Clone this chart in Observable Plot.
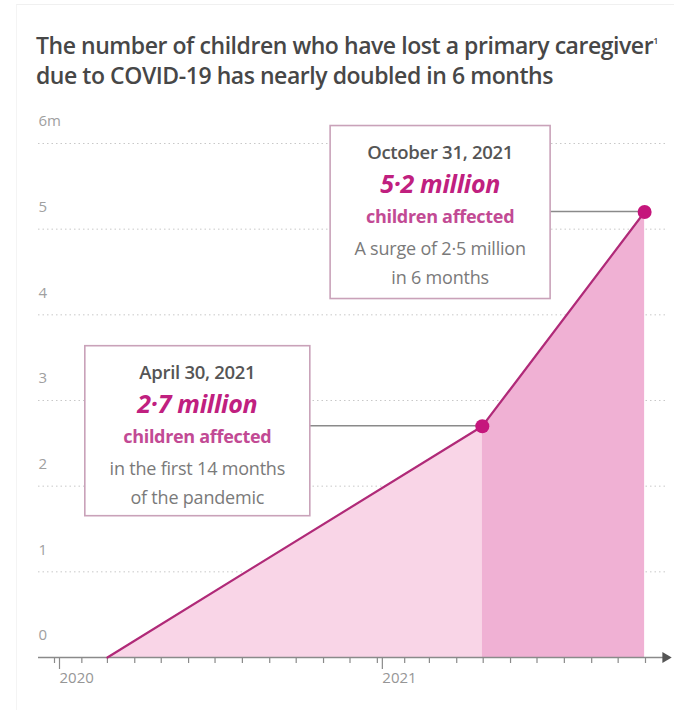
<!DOCTYPE html>
<html>
<head>
<meta charset="utf-8">
<script src="https://cdn.jsdelivr.net/npm/d3@7"></script>
<script src="https://cdn.jsdelivr.net/npm/@observablehq/plot@0.6"></script>
<style>
  html, body { margin: 0; padding: 0; background: #fff; }
  #wrap { width: 674px; height: 710px; position: relative; overflow: hidden; font-family: "Open Sans", Lato, sans-serif; }
  #frame { position: absolute; left: 16px; top: 4px; right: 0; bottom: 0; border-top: 1px solid #f0f0f0; border-left: 1px solid #f4f4f4; }
  #title { position: relative; box-sizing: border-box; height: 100px; padding: 26px 0 0 36px; font-size: 23px; line-height: 30px; font-weight: 600; color: #474747; letter-spacing: -0.45px; white-space: nowrap; }
  #title sup { font-size: 9px; vertical-align: 10px; }
  #chart svg { display: block; }
</style>
</head>
<body>
<div id="wrap">
  <div id="frame"></div>
  <div id="title">The number of children who have lost a primary caregiver<sup>1</sup><br>due to COVID-19 has nearly doubled in 6 months</div>
  <div id="chart"></div>
</div>
<script>
// ---- data ----
const pointDates = ["2020-03-01", "2021-04-30", "2021-10-31"];
const pointValues = [0, 2.7, 5.2]; // millions of children
const yTicks = [0, 1, 2, 3, 4, 5, 6];
const yTickLabels = ["0", "1", "2", "3", "4", "5", "6m"];
const yearTicks = ["2020-01-01", "2021-01-01"];
const xDomain = ["2020-01-01", "2021-11-01"];
const annDates = ["April 30, 2021", "October 31, 2021"];
const annHeadlines = ["2·7 million", "5·2 million"];
const annSubs = ["children affected", "children affected"];
const annNote1 = ["in the first 14 months", "A surge of 2·5 million"];
const annNote2 = ["of the pandemic", "in 6 months"];

// ---- derived tables ----
const points = pointDates.map((d, i) => ({date: new Date(d), value: pointValues[i]}));
const phase1 = points.slice(0, 2);
const phase2 = points.slice(1, 3);
const annotations = points.slice(1).map((p, i) => ({
  ...p, date1: annDates[i], headline: annHeadlines[i], sub: annSubs[i], note1: annNote1[i], note2: annNote2[i]
}));
const monthTicks = d3.utcMonth.range(new Date(xDomain[0]), d3.utcDay.offset(new Date(xDomain[1]), 1));

// ---- layout/style of annotation boxes (pixel offsets from the data point) ----
const boxLayout = [
  {left: -397, right: -172, top: -80, bottom: 90},
  {left: -314, right: -94, top: -86, bottom: 87}
];
const lineOffsets = [26, 57, 90, 122, 151];
const FONT = "'Open Sans', Lato, sans-serif";

function annotationMark(index, scales, values, dimensions) {
  const g = d3.create("svg:g");
  annotations.forEach((a, i) => {
    const px = scales.x(a.date), py = scales.y(a.value);
    const L = boxLayout[i];
    const x0 = px + L.left, x1 = px + L.right, y0 = py + L.top, y1 = py + L.bottom;
    g.append("line").attr("x1", x1).attr("x2", px).attr("y1", py).attr("y2", py)
      .attr("stroke", "#8a8a8a").attr("stroke-width", 1.5);
    g.append("rect").attr("x", x0).attr("y", y0).attr("width", x1 - x0).attr("height", y1 - y0)
      .attr("fill", "#fff").attr("stroke", "#c9a2b9").attr("stroke-width", 1.6);
    const cx = (x0 + x1) / 2;
    const lines = [
      {t: a.date1, size: 18.5, weight: 600, style: "normal", fill: "#555", ls: -0.3},
      {t: a.headline, size: 25, weight: 700, style: "italic", fill: "#c0207f", ls: -0.3},
      {t: a.sub, size: 18, weight: 700, style: "normal", fill: "#c24a94", ls: -0.3},
      {t: a.note1, size: 18, weight: 400, style: "normal", fill: "#7a7a7a", ls: -0.2},
      {t: a.note2, size: 18, weight: 400, style: "normal", fill: "#7a7a7a", ls: -0.2}
    ];
    lines.forEach((ln, k) => {
      g.append("text").attr("x", cx).attr("y", y0 + lineOffsets[k])
        .attr("text-anchor", "middle").attr("dominant-baseline", "central")
        .attr("font-family", FONT).attr("letter-spacing", ln.ls)
        .attr("font-size", ln.size).attr("font-weight", ln.weight).attr("font-style", ln.style)
        .attr("fill", ln.fill).text(ln.t);
    });
  });
  return g.node();
}

const chart = Plot.plot({
  width: 674,
  height: 610,
  marginTop: 43,
  marginBottom: 53,
  marginLeft: 38,
  marginRight: 9,
  style: {fontFamily: FONT, background: "transparent"},
  x: {type: "utc", domain: xDomain.map(d => new Date(d)), range: [54, 645]},
  y: {domain: [0, 6], axis: null},
  marks: [
    Plot.ruleY(yTicks.filter(v => v > 0), {stroke: "#c8c8c8", strokeDasharray: "1.5,3", strokeWidth: 1}),
    Plot.text(yTicks, {y: d => d, text: (d, i) => yTickLabels[i], frameAnchor: "left", textAnchor: "start", dy: -22, fill: "#a0a0a0", fontSize: 15}),
    Plot.areaY(phase1, {x: "date", y: "value", fill: "#f9d5e7"}),
    Plot.areaY(phase2, {x: "date", y: "value", fill: "#f0b1d4"}),
    Plot.axisX({ticks: monthTicks, tickSize: 6, tickFormat: () => "", stroke: "#8a8a8a", strokeWidth: 1.2}),
    Plot.axisX({ticks: yearTicks.map(d => new Date(d)), tickSize: 12, tickFormat: d => String(d.getUTCFullYear()), textAnchor: "start", dx: 5, fontSize: 15, stroke: "#8a8a8a", fill: "#969696", strokeWidth: 1.2}),
    Plot.ruleY([0], {stroke: "#8a8a8a", strokeWidth: 1.5}),
    Plot.dot([0], {y: d => d, frameAnchor: "right", symbol: "triangle", rotate: 90, r: 4, fill: "#555", stroke: "none"}),
    Plot.line(points, {x: "date", y: "value", stroke: "#b02a78", strokeWidth: 2.2}),
    annotationMark,
    Plot.dot(points.slice(1), {x: "date", y: "value", r: 7, fill: "#c5167c", stroke: "none"})
  ]
});
document.getElementById("chart").append(chart);
</script>
</body>
</html>
